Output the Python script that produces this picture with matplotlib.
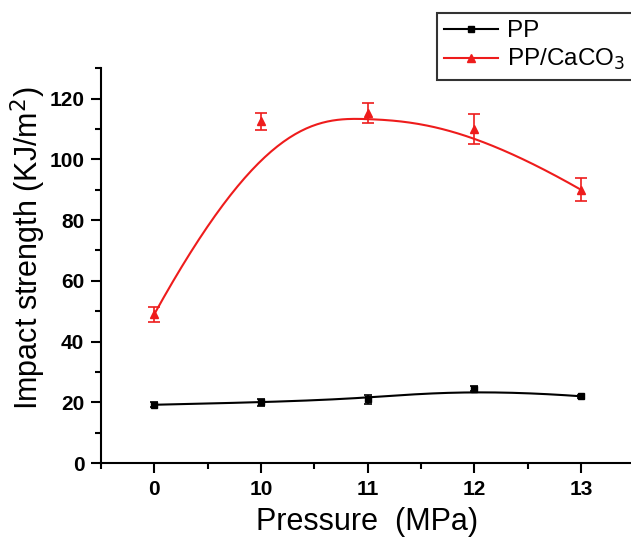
import numpy as np
import matplotlib.pyplot as plt
from matplotlib.ticker import MultipleLocator

plt.rcParams['font.family'] = ['Liberation Sans', 'DejaVu Sans']

# data
pressure = ['0', '10', '11', '12', '13']
pp = [19.2, 20.0, 21.0, 24.5, 22.0]
pp_err = [0.8, 1.1, 1.4, 0.9, 0.5]
pp_caco3 = [49.0, 112.5, 115.2, 110.0, 90.0]
pp_caco3_err = [2.4, 2.7, 3.3, 5.0, 3.8]


def bspline(xs, ys, n=200):
    # clamped cubic B-spline using the points as control points (Origin style)
    P = np.column_stack([xs, ys])
    k = 3
    m = len(P)
    inner = np.linspace(0, 1, m - k + 1)[1:-1]
    t = np.concatenate([[0] * (k + 1), inner, [1] * (k + 1)])
    u = np.linspace(0, 1, n)
    u[-1] = 1 - 1e-10

    def N(i, p, uu):
        if p == 0:
            return np.where((t[i] <= uu) & (uu < t[i + 1]), 1.0, 0.0)
        a = 0.0
        if t[i + p] != t[i]:
            a = (uu - t[i]) / (t[i + p] - t[i]) * N(i, p - 1, uu)
        b = 0.0
        if t[i + p + 1] != t[i + 1]:
            b = (t[i + p + 1] - uu) / (t[i + p + 1] - t[i + 1]) * N(i + 1, p - 1, uu)
        return a + b

    B = np.array([N(i, k, u) for i in range(m)])
    C = B.T @ P
    return C[:, 0], C[:, 1]


x = np.arange(len(pressure))
red = '#ee1c1c'

fig = plt.figure(figsize=(6.31, 5.41), dpi=100)
ax = fig.add_axes([0.160, 0.144, 0.845, 0.73])

sx, sy = bspline(x, pp)
ax.plot(sx, sy, color='black', lw=1.5)
ax.errorbar(x, pp, yerr=pp_err, fmt='s', color='black', ms=4, capsize=3, elinewidth=1.2, capthick=1.2)

sx, sy = bspline(x, pp_caco3)
ax.plot(sx, sy, color=red, lw=1.5)
ax.errorbar(x, pp_caco3, yerr=pp_caco3_err, fmt='^', color=red, ms=6, capsize=4, elinewidth=1.2, capthick=1.2)

# legend handles
h1, = ax.plot([], [], color='black', marker='s', ms=4, lw=1.5)
h2, = ax.plot([], [], color=red, marker='^', ms=6, lw=1.5)
leg = fig.legend([h1, h2], ['PP', 'PP/CaCO$_3$'], loc='upper right', bbox_to_anchor=(1.003, 0.976),
                 borderaxespad=0, fontsize=17.5, frameon=True, fancybox=False, edgecolor='black',
                 handlelength=2.2, borderpad=0.3, labelspacing=0.2, handletextpad=0.4)
leg.get_frame().set_linewidth(1.5)

ax.set_xlim(-0.5, 4.5)
ax.set_ylim(0, 130)
ax.set_xticks(x)
ax.set_xticklabels(pressure)
ax.xaxis.set_minor_locator(MultipleLocator(0.5))
ax.yaxis.set_major_locator(MultipleLocator(20))
ax.yaxis.set_minor_locator(MultipleLocator(10))
for s in ['top', 'right']:
    ax.spines[s].set_visible(False)
for s in ['left', 'bottom']:
    ax.spines[s].set_linewidth(1.5)
ax.tick_params(which='major', length=7, width=1.5, labelsize=15, pad=5)
ax.tick_params(which='minor', length=4, width=1.5)
for lab in ax.get_xticklabels() + ax.get_yticklabels():
    lab.set_fontweight('bold')

ax.set_xlabel('Pressure  (MPa)', fontsize=22)
ax.set_ylabel('Impact strength (KJ/m$^2$)', fontsize=22)
ax.xaxis.set_label_coords(0.5, -0.11)
ax.yaxis.set_label_coords(-0.10, 0.545)

plt.savefig('out.png', dpi=100)
